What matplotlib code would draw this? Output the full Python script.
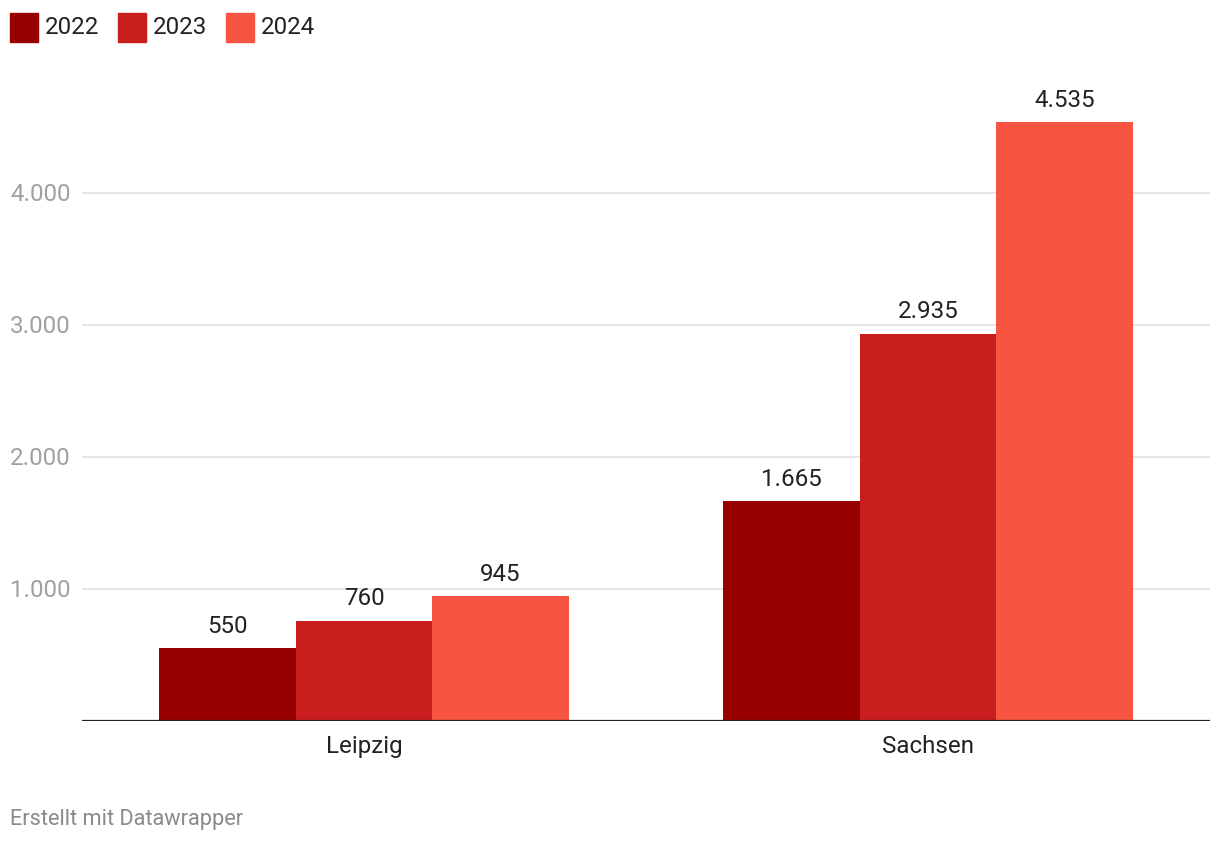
import matplotlib
matplotlib.use("Agg")
import matplotlib.pyplot as plt
from matplotlib.patches import Rectangle
import numpy as np

plt.rcParams['font.family'] = ['Roboto', 'DejaVu Sans']

categories = ["Leipzig", "Sachsen"]
years = ["2022", "2023", "2024"]
values = {
    "2022": [550, 1665],
    "2023": [760, 2935],
    "2024": [945, 4535],
}
colors = ["#990000", "#c81e1e", "#f75442"]
yticks = [1000, 2000, 3000, 4000]
ytick_labels = ["1.000", "2.000", "3.000", "4.000"]

def fmt(v):
    return f"{v:,}".replace(",", ".")

FS = 17.4
W, H = 1220, 844
fig = plt.figure(figsize=(W / 100, H / 100), dpi=100)
ax_l, ax_r, ax_t, ax_b = 82, 1210, 60, 721
ax = fig.add_axes([ax_l / W, 1 - ax_b / H, (ax_r - ax_l) / W, (ax_b - ax_t) / H])

ymax = (ax_b - ax_t) / 132 * 1000
ax.set_ylim(0, ymax)
ax.set_xlim(-0.5, 1.5)

x = np.arange(len(categories))
bw = 0.242
for i, (yr, c) in enumerate(zip(years, colors)):
    pos = x + (i - 1) * bw
    ax.bar(pos, values[yr], width=bw, color=c, zorder=3, linewidth=0)
    for p, v in zip(pos, values[yr]):
        ax.annotate(fmt(v), (p, v), xytext=(0, 7.5), textcoords="offset points",
                    ha="center", va="bottom", fontsize=FS, color="#222222", zorder=4)

for t in yticks:
    ax.axhline(t, color="#e0e0e0", lw=1.2, zorder=1)
ax.axhline(0, color="#222222", lw=1.6, zorder=5)

ax.set_yticks(yticks)
ax.set_yticklabels([])
ax.tick_params(axis="y", length=0)
for t, lab in zip(yticks, ytick_labels):
    fig.text(10 / W, 1 - (ax_b - t * 0.132 + 1.5) / H, lab, ha="left", va="center",
             fontsize=FS, color="#a0a0a0")

ax.set_xticks(x)
ax.set_xticklabels(categories, fontsize=FS, color="#222222")
ax.tick_params(axis="x", length=0, pad=10)
for s in ax.spines.values():
    s.set_visible(False)

# legend
leg_items = [(10, "2022"), (118, "2023"), (226, "2024")]
for (lx, lab), c in zip(leg_items, colors):
    fig.patches.append(Rectangle(((lx) / W, 1 - 42 / H), 28 / W, 29 / H,
                                 transform=fig.transFigure, color=c, figure=fig))
    fig.text((lx + 35) / W, 1 - 28 / H, lab, ha="left", va="center",
             fontsize=FS, color="#222222")

fig.text(10 / W, 1 - 819 / H, "Erstellt mit Datawrapper", ha="left", va="center",
         fontsize=15.7, color="#8a8a8a")

fig.savefig("out.png", dpi=100)
